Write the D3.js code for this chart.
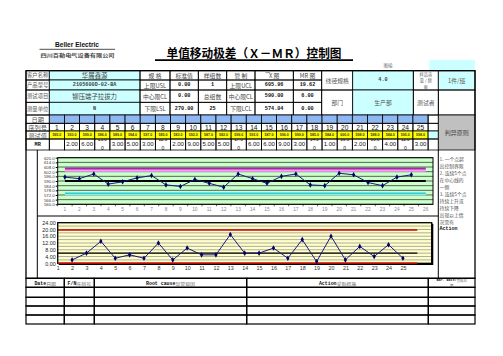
<!DOCTYPE html>
<html>
<head>
<meta charset="utf-8">
<script src="https://cdn.jsdelivr.net/npm/d3@7"></script>
<style>body{margin:0;background:#fff}</style>
</head>
<body>
<svg id="chart" width="503" height="356"></svg>
<script>
// values
const serials = [1,2,3,4,5,6,7,8,9,10,11,12,13,14,15,16,17,18,19,20,21,22,23,24,25];
const xValues = [595,593,599,586,589,594,597,585,583,592,587,582,599,593,587,596,599,585,584,600,598,588,584,595,598];
const mrValues = [null,2,6,13,3,5,3,12,2,9,5,5,17,6,6,9,3,14,1,16,2,10,4,11,3];
const xAxisLabels = [1,2,3,4,5,6,7,8,9,10,11,12,13,14,15,16,17,18,19,20,21,22,23,24,25,26];
const mrAxisLabels = [1,2,3,4,5,6,7,8,9,10,11,12,13,14,15,16,17,18,19,20,21,22,23,24,25];
const xTicks = [620,614,608,602,596,590,584,578,572,566,560];
const mrTicks = [0,4,8,12,16,20,24];
const xUCL = 605.96, xCL = 590, xLCL = 574.04;
const mrUCL = 19.62, mrCL = 6, mrLCL = 0;

const rowLabels = ['客户名称','产品型号','测试项目','测量单位'];
const productInfo = ['华展鑫源','2105600D-02-BA','铆压端子拉拔力','N'];
const specCol = ['规 格','上限USL','中心限CL','下限LSL'];
const stdCol = ['标准值','0.00','0.00','270.00'];
const groupCol = ['样组数','1','总组数','25'];
const ctrlCol = ['管 制','上限UCL','中心限CL','下限LCL'];
const ruleLines = ['1. 一个点超','出控制界限','2. 连续5个点','在中心线的','一侧','3. 连续5个点','持续上升或','持续下降','出现以上情','况需有','Action'];

const cjk = '"Noto Sans CJK SC", sans-serif';
const sans = '"Liberation Sans", Arial, sans-serif';
const mono = '"Liberation Mono", monospace';

const svg = d3.select('#chart');
const defs = svg.append('defs');
svg.append('rect').attr('width', 503).attr('height', 356).attr('fill', '#fff');

let clipCount = 0;
function clip(x0, y0, x1, y1) {
    const id = 'clip' + (clipCount++);
    defs.append('clipPath').attr('id', id).append('rect')
        .attr('x', x0).attr('y', y0).attr('width', x1 - x0).attr('height', y1 - y0);
    return `url(#${id})`;
}

function cell(x0, y0, x1, y1, fill, sw) {
    return svg.append('rect')
        .attr('x', x0).attr('y', y0)
        .attr('width', x1 - x0).attr('height', y1 - y0)
        .attr('fill', fill || 'none')
        .attr('stroke', '#000')
        .attr('stroke-width', sw || 0.8);
}

function txt(x, y, s, size, opts = {}) {
    return svg.append('text')
        .attr('x', x).attr('y', y)
        .attr('font-size', size)
        .attr('font-family', opts.family || cjk)
        .attr('font-weight', opts.weight || 'normal')
        .attr('fill', opts.fill || '#333')
        .attr('text-anchor', opts.anchor || 'middle')
        .attr('dominant-baseline', 'central')
        .text(s);
}

// ---- heading
txt(77, 44.5, 'Beller Electric', 6.6, {family: sans, weight: 'bold', fill: '#111'});
svg.append('line').attr('x1', 39.5).attr('x2', 115).attr('y1', 49.3).attr('y2', 49.3)
    .attr('stroke', '#222').attr('stroke-width', 0.8);
txt(77.5, 54, '四川百勒电气设备有限公司', 5, {weight: 'bold', fill: '#444'})
    .attr('textLength', 74).attr('lengthAdjust', 'spacingAndGlyphs');
txt(254, 52.5, '单值移动极差（Ｘ－ＭＲ）控制图', 12, {weight: 'bold', fill: '#000'})
    .attr('textLength', 175).attr('lengthAdjust', 'spacingAndGlyphs');
svg.append('line').attr('x1', 155).attr('x2', 353).attr('y1', 60.2).attr('y2', 60.2)
    .attr('stroke', '#000').attr('stroke-width', 1.8);
txt(388, 64.6, '图编', 4.5, {fill: '#777'});
svg.append('rect').attr('x', 429.5).attr('y', 60).attr('width', 45.5).attr('height', 10.7).attr('fill', '#ccffff');

// ---- header block
const hx = [26, 49.3, 140, 170, 198.3, 226.7, 255, 293.3, 321.7, 352.7, 413.3, 438.3, 475];
const ry = [70.7, 80, 90, 102.3, 115, 123.3, 131, 139, 150];

const xCol = ['X 图', xUCL.toFixed(2), xCL.toFixed(2), xLCL.toFixed(2)];
const mrCol = ['MR 图', mrUCL.toFixed(2), mrCL.toFixed(2), mrLCL.toFixed(2)];

for (let r = 0; r < 4; r++) {
    const y0 = ry[r], y1 = ry[r + 1], ym = (y0 + y1) / 2;
    cell(hx[0], y0, hx[1], y1);
    txt((hx[0] + hx[1]) / 2, ym, rowLabels[r], 5.3, {fill: '#555'});

    cell(hx[1], y0, hx[2], y1, '#ccffff');
    const isCode = r === 1 || r === 3;
    txt((hx[1] + hx[2]) / 2, ym, productInfo[r], isCode ? 5.2 : 6.4,
        {family: isCode ? mono : cjk, weight: isCode ? 'bold' : 'normal', fill: '#444'});

    const cols = [specCol, stdCol, groupCol, ctrlCol, xCol, mrCol];
    cols.forEach((c, i) => {
        cell(hx[2 + i], y0, hx[3 + i], y1);
        const s = c[r];
        const numeric = /^[0-9.]+$/.test(s);
        txt((hx[2 + i] + hx[3 + i]) / 2, ym, s, numeric ? 5.2 : 5.8,
            {family: numeric ? mono : cjk, weight: numeric ? 'bold' : 'normal', fill: numeric ? '#111' : '#444'});
    });
}
// bar over the X
svg.append('line').attr('x1', 265.5).attr('x2', 270).attr('y1', 72.6).attr('y2', 72.6).attr('stroke', '#333').attr('stroke-width', 0.5);

cell(hx[8], ry[0], hx[9], ry[2]);
txt((hx[8] + hx[9]) / 2, (ry[0] + ry[2]) / 2, '线径规格', 5.8, {fill: '#555'});
cell(hx[9], ry[0], hx[10], ry[2], '#ccffff');
txt((hx[9] + hx[10]) / 2, (ry[0] + ry[2]) / 2, '4.0', 5.2, {family: mono, weight: 'bold', fill: '#444'});
cell(hx[10], ry[0], hx[11], ry[2]);
['样品容', '量 / 频', '率'].forEach((s, i) => txt((hx[10] + hx[11]) / 2, ry[0] + 3.6 + i * 6.1, s, 4.2, {fill: '#666'}));
cell(hx[11], ry[0], hx[12], ry[2], '#ccffff');
txt((hx[11] + hx[12]) / 2, (ry[0] + ry[2]) / 2, '1件/班', 5.8, {fill: '#555'});
cell(hx[8], ry[2], hx[9], ry[4]);
txt((hx[8] + hx[9]) / 2, (ry[2] + ry[4]) / 2, '部门', 5.8, {fill: '#555'});
cell(hx[9], ry[2], hx[10], ry[4], '#ccffff');
txt((hx[9] + hx[10]) / 2, (ry[2] + ry[4]) / 2, '生产部', 5.8, {fill: '#555'});
cell(hx[10], ry[2], hx[11], ry[4]);
txt((hx[10] + hx[11]) / 2, (ry[2] + ry[4]) / 2, '测试者', 5.8, {fill: '#555'});
cell(hx[11], ry[2], hx[12], ry[4]);

// ---- data rows (date / serial / value / MR)
const colX = d3.scaleBand().domain(serials).range([49.3, 428.1]).paddingInner(0).paddingOuter(0);
const dw = colX.bandwidth();
const labelsLower = ['日期', '序列号', '测试值', 'MR'];
labelsLower.forEach((s, i) => {
    cell(hx[0], ry[4 + i], hx[1], ry[5 + i]);
    txt((hx[0] + hx[1]) / 2, (ry[4 + i] + ry[5 + i]) / 2, s, i === 3 ? 5.2 : 6.2,
        {family: i === 3 ? mono : cjk, weight: i === 3 ? 'bold' : 'normal', fill: i === 3 ? '#111' : '#555'});
});

serials.forEach((s, i) => {
    const x0 = colX(s), x1 = x0 + dw, xm = x0 + dw / 2;
    cell(x0, ry[4], x1, ry[5], '#8fb8f2');
    cell(x0, ry[5], x1, ry[6]);
    txt(xm, (ry[5] + ry[6]) / 2, String(s), 6.6, {family: sans, fill: '#111'});
    cell(x0, ry[6], x1, ry[7], '#ffff00');
    txt(xm, (ry[6] + ry[7]) / 2, xValues[i].toFixed(1), 3.6, {family: sans, weight: 'bold', fill: '#333'});
    cell(x0, ry[7], x1, ry[8]);
    const v = mrValues[i];
    if (v === null) return;
    if (v < 10) {
        txt(xm, (ry[7] + ry[8]) / 2 - 1, v.toFixed(2), 6, {family: sans, fill: '#111'});
    } else {
        const cp = clip(x0, ry[7], x1, ry[8]);
        txt(xm, ry[7] + 0.4, v.toFixed(1), 4.6, {family: sans, fill: '#111'}).attr('clip-path', cp);
        txt(xm, ry[8] - 2.4, '0', 5, {family: sans, fill: '#111'}).attr('clip-path', cp);
    }
});
const lastCol = colX(25) + dw;
cell(lastCol, ry[4], hx[11], ry[5]);
cell(lastCol, ry[5], hx[11], ry[6]);
cell(lastCol, ry[6], hx[11], ry[7], '#ccffff');
cell(lastCol, ry[7], hx[11], ry[8]);
cell(hx[11], ry[4], hx[12], ry[8], '#c0c0c0');
txt((hx[11] + hx[12]) / 2, (ry[4] + ry[8]) / 2, '判异原则', 6, {fill: '#444'});

// ---- chart frame
const chartTop = 150, chartBottom = 278.3;
svg.append('line').attr('x1', 37.3).attr('x2', 37.3).attr('y1', chartTop).attr('y2', chartBottom).attr('stroke', '#000').attr('stroke-width', 1);
svg.append('line').attr('x1', 37.3).attr('x2', hx[11]).attr('y1', 216).attr('y2', 216).attr('stroke', '#000').attr('stroke-width', 1);
svg.append('line').attr('x1', hx[11]).attr('x2', hx[11]).attr('y1', chartTop).attr('y2', chartBottom).attr('stroke', '#000').attr('stroke-width', 1);

ruleLines.forEach((s, i) => {
    const isEn = s === 'Action';
    txt(439.6, 158 + i * 7.05, s, isEn ? 5 : 4.8,
        {anchor: 'start', family: isEn ? mono : cjk, weight: isEn ? 'bold' : 'normal', fill: isEn ? '#111' : '#555'});
});

// ---- X chart
const xp = {l: 57.7, r: 433, t: 157.7, b: 204.3};
const xScale = d3.scaleBand().domain(xAxisLabels).range([xp.l, xp.r]);
const cx = d => xScale(d) + xScale.bandwidth() / 2;
const yX = d3.scaleLinear().domain([560, 620]).range([xp.b, xp.t]);

svg.append('rect').attr('x', xp.l).attr('y', xp.t).attr('width', xp.r - xp.l).attr('height', xp.b - xp.t)
    .attr('fill', '#ccffcc');
svg.append('g').selectAll('line').data(xTicks).join('line')
    .attr('x1', xp.l).attr('x2', xp.r).attr('y1', d => yX(d)).attr('y2', d => yX(d))
    .attr('stroke', '#000').attr('stroke-width', 0.6);

const limitLine = (scaleY, v) => `M${cx(1)},${scaleY(v)}H${cx(26)}`;
svg.append('path').attr('d', limitLine(yX, xUCL)).attr('transform', 'translate(0,1.6)')
    .attr('stroke', '#ff99ff').attr('stroke-width', 3).attr('fill', 'none');
svg.append('path').attr('d', limitLine(yX, xUCL)).attr('stroke', '#993399').attr('stroke-width', 2).attr('fill', 'none');
svg.append('path').attr('d', limitLine(yX, xLCL)).attr('stroke', '#aaffff').attr('stroke-width', 3.6).attr('fill', 'none');
svg.append('path').attr('d', limitLine(yX, xLCL)).attr('stroke', '#33cccc').attr('stroke-width', 1.6).attr('fill', 'none');
svg.append('path').attr('d', limitLine(yX, xCL)).attr('stroke', '#000').attr('stroke-width', 2).attr('fill', 'none');

svg.append('rect').attr('x', xp.l).attr('y', xp.t).attr('width', xp.r - xp.l).attr('height', xp.b - xp.t)
    .attr('fill', 'none').attr('stroke', '#000').attr('stroke-width', 1);

const xLine = d3.line().x((d, i) => cx(serials[i])).y(d => yX(d));
svg.append('path').datum(xValues).attr('d', xLine)
    .attr('fill', 'none').attr('stroke', '#1a1a7a').attr('stroke-width', 1);
const diamond = d3.symbol().type(d3.symbolDiamond).size(9);
svg.append('g').selectAll('path').data(xValues).join('path')
    .attr('d', diamond)
    .attr('transform', (d, i) => `translate(${cx(serials[i])},${yX(d)})`)
    .attr('fill', '#000066');

const yAxisX = svg.append('g').attr('transform', `translate(${xp.l},0)`)
    .call(d3.axisLeft(yX).tickValues(xTicks).tickFormat(d3.format('.1f')).tickSize(2).tickPadding(1));
yAxisX.select('.domain').remove();
yAxisX.selectAll('text').attr('font-size', 4.3).attr('font-family', sans).attr('fill', '#333');

const xAxisX = svg.append('g').attr('transform', `translate(0,${xp.b})`)
    .call(d3.axisBottom(xScale).tickSize(0).tickPadding(3));
xAxisX.select('.domain').remove();
xAxisX.selectAll('text').attr('font-size', 4.8).attr('font-family', sans).attr('fill', '#888');
svg.append('g').selectAll('line').data(xAxisLabels).join('line')
    .attr('x1', d => xScale(d)).attr('x2', d => xScale(d))
    .attr('y1', xp.b).attr('y2', xp.b + 2).attr('stroke', '#000').attr('stroke-width', 0.6);

// ---- MR chart
const mp = {l: 57.7, r: 431.7, t: 222.7, b: 263.3};
const xMR = d3.scaleLinear().domain([1, 27]).range([mp.l, mp.r]);
const yMR = d3.scaleLinear().domain([0, 24]).range([mp.b, mp.t]);

svg.append('rect').attr('x', mp.l).attr('y', mp.t).attr('width', mp.r - mp.l).attr('height', mp.b - mp.t)
    .attr('fill', '#ffffcc');
svg.append('g').selectAll('line').data(d3.range(2, 24, 2)).join('line')
    .attr('x1', mp.l).attr('x2', mp.r).attr('y1', d => yMR(d)).attr('y2', d => yMR(d))
    .attr('stroke', '#777').attr('stroke-width', 0.6);

const mrLimit = v => `M${xMR(1)},${yMR(v)}H${xMR(26)}`;
svg.append('path').attr('d', mrLimit(mrUCL)).attr('stroke', '#cc0000').attr('stroke-width', 1.5).attr('fill', 'none');
svg.append('path').attr('d', mrLimit(mrCL)).attr('stroke', '#000').attr('stroke-width', 1.2).attr('fill', 'none');

svg.append('rect').attr('x', mp.l).attr('y', mp.t).attr('width', mp.r - mp.l).attr('height', mp.b - mp.t)
    .attr('fill', 'none').attr('stroke', '#000').attr('stroke-width', 1.3);
svg.append('path').attr('d', `M${mp.r + 0.8},${mp.t + 1}V${mp.b + 0.8}H${mp.l + 1}`)
    .attr('fill', 'none').attr('stroke', '#000').attr('stroke-width', 1.6);
svg.append('path').attr('d', mrLimit(mrLCL)).attr('stroke', '#cc0000').attr('stroke-width', 1.5).attr('fill', 'none');

const mrPoints = mrValues.map((v, i) => ({s: serials[i], v})).filter(d => d.v !== null);
svg.append('path').datum(mrPoints)
    .attr('d', d3.line().x(d => xMR(d.s)).y(d => yMR(d.v)))
    .attr('fill', 'none').attr('stroke', '#1a1a7a').attr('stroke-width', 1);
svg.append('g').selectAll('path').data(mrPoints).join('path')
    .attr('d', diamond)
    .attr('transform', d => `translate(${xMR(d.s)},${yMR(d.v)})`)
    .attr('fill', '#000066');

const yAxisMR = svg.append('g').attr('transform', `translate(${mp.l},0)`)
    .call(d3.axisLeft(yMR).tickValues(mrTicks).tickFormat(d3.format('.2f')).tickSize(0).tickPadding(2));
yAxisMR.select('.domain').remove();
yAxisMR.selectAll('text').attr('font-size', 5.4).attr('font-family', sans).attr('fill', '#222');

const xAxisMR = svg.append('g').attr('transform', `translate(0,${mp.b})`)
    .call(d3.axisBottom(xMR).tickValues(mrAxisLabels).tickFormat(d3.format('d')).tickSize(0).tickPadding(3));
xAxisMR.select('.domain').remove();
xAxisMR.selectAll('text').attr('font-size', 5.4).attr('font-family', sans).attr('fill', '#333');

// ---- outer border of top sheet
svg.append('rect').attr('x', 26).attr('y', ry[0]).attr('width', 475 - 26).attr('height', chartBottom - ry[0])
    .attr('fill', 'none').attr('stroke', '#000').attr('stroke-width', 1.3);

// ---- bottom log table
const bx = [26, 64.3, 94.3, 246.7, 428.3, 475];
const by = [278.3, 287.3, 297.3, 306, 315, 324];
for (let r = 0; r < 5; r++) {
    for (let c = 0; c < 5; c++) {
        cell(bx[c], by[r], bx[c + 1], by[r + 1], null, 1.2);
    }
}
function mixedHeader(x, y, en, zh, size) {
    const t = svg.append('text').attr('x', x).attr('y', y).attr('text-anchor', 'middle')
        .attr('dominant-baseline', 'central').attr('font-size', size);
    t.append('tspan').attr('font-family', mono).attr('font-weight', 'bold').attr('fill', '#111').text(en);
    t.append('tspan').attr('font-family', cjk).attr('fill', '#666').text(zh);
}
const bm = (by[0] + by[1]) / 2;
mixedHeader((bx[0] + bx[1]) / 2, bm, 'Date', '日期', 4.9);
mixedHeader((bx[1] + bx[2]) / 2, bm, 'F/N', '序列号', 4.9);
mixedHeader((bx[2] + bx[3]) / 2, bm, 'Root cause', '异常原因', 4.9);
mixedHeader((bx[3] + bx[4]) / 2, bm, 'Action', '采取措施', 4.9);
mixedHeader((bx[4] + bx[5]) / 2, by[0] + 2.1, 'Bar. Date/', '完成日', 3.4);
txt((bx[4] + bx[5]) / 2, by[0] + 6.9, '期', 3.4, {fill: '#666'});
</script>
</body>
</html>
